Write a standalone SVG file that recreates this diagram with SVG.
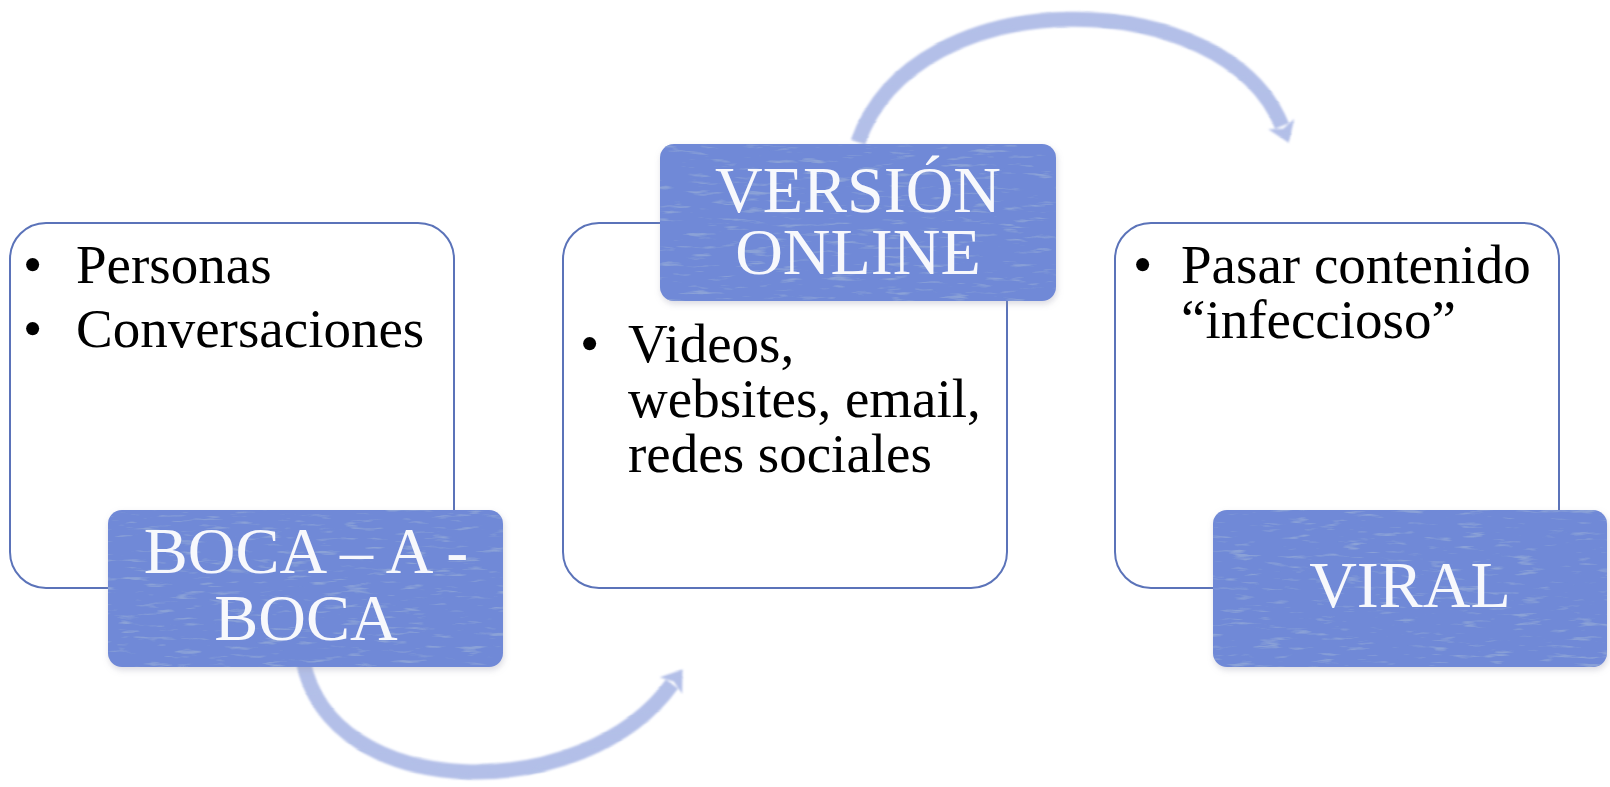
<svg xmlns="http://www.w3.org/2000/svg" width="1610" height="787" viewBox="0 0 1610 787">
  <style>
    .card { fill: #ffffff; stroke: #5b73b9; stroke-width: 2; }
    .tag { fill: #7089d7; }
    .body { font-family: "Liberation Serif", "Times New Roman", serif; font-size: 55px; fill: #000000; }
    .label { font-family: "Liberation Serif", "Times New Roman", serif; font-size: 66px; fill: #f7f8fc; text-anchor: middle; }
    .arrow { fill: none; stroke: #b3bfe8; stroke-width: 15; }
  </style>
  <defs>
    <filter id="tex" x="-5%" y="-8%" width="112%" height="120%">
      <feTurbulence type="fractalNoise" baseFrequency="0.035 0.22" numOctaves="3" seed="7" result="n"/>
      <feColorMatrix in="n" type="matrix" values="0 0 0 0 0.26  0 0 0 0 0.36  0 0 0 0 0.68  5 0 0 0 -3.0" result="spots"/>
      <feComposite in="spots" in2="SourceGraphic" operator="in" result="spotsIn"/>
      <feGaussianBlur in="SourceAlpha" stdDeviation="3" result="blur"/>
      <feOffset in="blur" dx="1" dy="3" result="off"/>
      <feColorMatrix in="off" type="matrix" values="0 0 0 0 0.3  0 0 0 0 0.3  0 0 0 0 0.4  0 0 0 0.35 0" result="shadow"/>
      <feMerge>
        <feMergeNode in="shadow"/>
        <feMergeNode in="SourceGraphic"/>
        <feMergeNode in="spotsIn"/>
      </feMerge>
    </filter>
    <filter id="arrowTex" x="-10%" y="-20%" width="120%" height="140%">
      <feTurbulence type="fractalNoise" baseFrequency="0.04 0.2" numOctaves="3" seed="3" result="n"/>
      <feColorMatrix in="n" type="matrix" values="0 0 0 0 0.45  0 0 0 0 0.53  0 0 0 0 0.80  4 0 0 0 -2.3" result="spots"/>
      <feGaussianBlur in="SourceGraphic" stdDeviation="0.9" result="soft"/>
      <feComposite in="spots" in2="soft" operator="in" result="spotsIn"/>
      <feMerge>
        <feMergeNode in="soft"/>
        <feMergeNode in="spotsIn"/>
      </feMerge>
    </filter>
    <marker id="head" viewBox="0 0 20 28" refX="2" refY="14" markerWidth="20" markerHeight="28" markerUnits="userSpaceOnUse" orient="auto">
      <path d="M0 0 L20 14 L0 28 L5 14 Z" fill="#b3bfe8"/>
    </marker>
  </defs>

  <g id="card-boca">
    <rect class="card" x="10" y="223" width="444" height="365" rx="36"/>
    <text class="body" x="23" y="283">•</text>
    <text class="body" x="76" y="283">Personas</text>
    <text class="body" x="23" y="347">•</text>
    <text class="body" x="76" y="347">Conversaciones</text>
  </g>

  <g id="card-online">
    <rect class="card" x="563" y="223" width="444" height="365" rx="36"/>
    <text class="body" x="580" y="362">•</text>
    <text class="body" x="628" y="362">Videos,<tspan x="628" dy="55">websites, email,</tspan><tspan x="628" dy="55">redes sociales</tspan></text>
  </g>

  <g id="card-viral">
    <rect class="card" x="1115" y="223" width="444" height="365" rx="36"/>
    <text class="body" x="1133" y="283">•</text>
    <text class="body" x="1181" y="283">Pasar contenido<tspan x="1181" dy="55">“infeccioso”</tspan></text>
  </g>

  <g id="connectors" filter="url(#arrowTex)">
    <path class="arrow" d="M303 660 C330 805, 585 805, 672 684" marker-end="url(#head)"/>
    <path class="arrow" d="M858 142 C915 -22, 1225 -16, 1282 126" marker-end="url(#head)"/>
  </g>

  <g id="tag-boca">
    <rect class="tag" x="108" y="510" width="395" height="157" rx="14" filter="url(#tex)"/>
    <text class="label" x="306" y="573">BOCA – A -<tspan x="306" dy="67">BOCA</tspan></text>
  </g>

  <g id="tag-online">
    <rect class="tag" x="660" y="144" width="396" height="157" rx="14" filter="url(#tex)"/>
    <text class="label" x="858" y="212">VERSIÓN<tspan x="858" dy="62">ONLINE</tspan></text>
  </g>

  <g id="tag-viral">
    <rect class="tag" x="1213" y="510" width="394" height="157" rx="14" filter="url(#tex)"/>
    <text class="label" x="1410" y="607">VIRAL</text>
  </g>
</svg>
